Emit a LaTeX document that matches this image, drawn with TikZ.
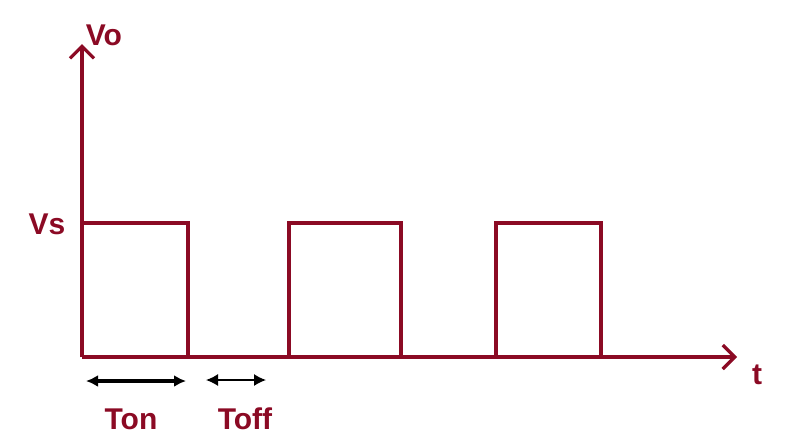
\documentclass[tikz,border=0pt]{standalone}
\usepackage{fontspec}
\setmainfont{Liberation Sans}
\usetikzlibrary{arrows.meta, positioning}
\definecolor{wavered}{RGB}{139,10,36}

\begin{document}
\begin{tikzpicture}[x=0.5pt, y=-0.5pt,
    wave/.style={draw=wavered, line width=1.6pt},
    axis/.style={wave, -{Straight Barb[length=6pt, width=12pt, line width=1.6pt]}},
    lbl/.style={text=wavered, font=\fontsize{15}{18}\selectfont\bfseries, inner sep=0pt},
    span/.style={draw=black, {Latex[length=6pt, width=6pt]}-{Latex[length=6pt, width=6pt]}}]
    \useasboundingbox (0,0) rectangle (802,445);

    \coordinate (o) at (82,357);
    \coordinate (ytop) at (82,44);
    \coordinate (xend) at (737,357);

    % axes
    \draw[axis] (o) -- (ytop);
    \draw[axis] (o) -- (xend);

    % pulse train
    \draw[wave, line join=miter] (o) -- (82,223) -- (188,223) -- (188,357)
        (289,357) -- (289,223) -- (401,223) -- (401,357)
        (496,357) -- (496,223) -- (601,223) -- (601,357);

    % labels
    \node[lbl] (vo) at (104,35) {Vo};
    \node[lbl] (vs) at (47,224) {Vs};
    \node[lbl] (t) at (757,375) {t};

    % on / off spans
    \coordinate (ona) at (86,381);
    \coordinate (onb) at (186,381);
    \coordinate (offa) at (206,380);
    \coordinate (offb) at (266,380);
    \draw[span, line width=1.6pt] (ona) -- (onb);
    \draw[span, line width=0.7pt] (offa) -- (offb);
    \node[lbl] (ton) at (131,419) {Ton};
    \node[lbl] (toff) at (245,419) {Toff};
\end{tikzpicture}
\end{document}
